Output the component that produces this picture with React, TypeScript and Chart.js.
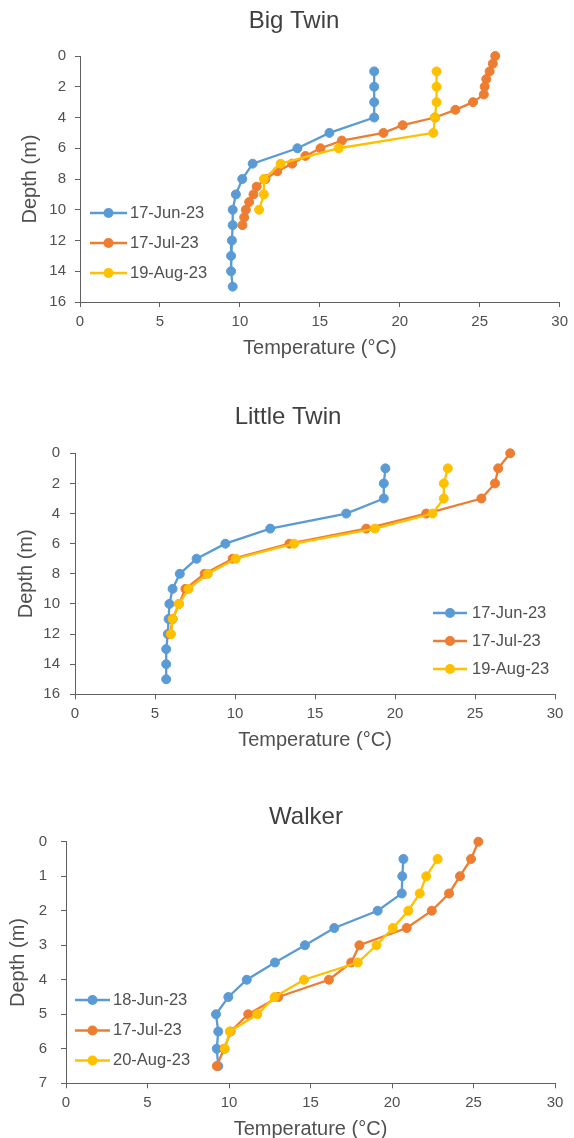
import React, { useEffect, useRef } from "react";
import { Chart, registerables } from "chart.js";

Chart.register(...registerables);

const FONT = '"Liberation Sans", Arial, sans-serif';
const TEXT = "#505050";
const AXIS = "#606060";
const BLUE = "#5B9BD5";
const ORANGE = "#ED7D31";
const YELLOW = "#FFC000";

// ---- Big Twin profiles (depth in m, temperature in °C) ----
const bigTwinJunDepth = [1, 2, 3, 4, 5, 6, 7, 8, 9, 10, 11, 12, 13, 14, 15];
const bigTwinJunTemp = [18.4, 18.4, 18.4, 18.4, 15.6, 13.6, 10.8, 10.15, 9.75, 9.55, 9.55, 9.5, 9.45, 9.45, 9.55];
const bigTwinJulDepth = [0, 0.5, 1, 1.5, 2, 2.5, 3, 3.5, 4, 4.5, 5, 5.5, 6, 6.5, 7, 7.5, 8, 8.5, 9, 9.5, 10, 10.5, 11];
const bigTwinJulTemp = [25.97, 25.82, 25.62, 25.41, 25.31, 25.26, 24.58, 23.48, 22.2, 20.18, 18.98, 16.38, 15.04, 14.1, 13.27, 12.34, 11.6, 11.05, 10.85, 10.58, 10.37, 10.27, 10.16];
const bigTwinAugDepth = [1, 2, 3, 4, 5, 6, 7, 8, 9, 10];
const bigTwinAugTemp = [22.3, 22.3, 22.3, 22.2, 22.1, 16.18, 12.55, 11.5, 11.5, 11.2];

// ---- Little Twin profiles ----
const littleTwinJunDepth = [1, 2, 3, 4, 5, 6, 7, 8, 9, 10, 11, 12, 13, 14, 15];
const littleTwinJunTemp = [19.4, 19.3, 19.3, 16.95, 12.2, 9.4, 7.6, 6.55, 6.1, 5.9, 5.85, 5.8, 5.7, 5.7, 5.7];
const littleTwinJulDepth = [0, 1, 2, 3, 4, 5, 6, 7, 8, 9, 10, 11, 12];
const littleTwinJulTemp = [27.2, 26.45, 26.25, 25.4, 21.95, 18.2, 13.4, 9.85, 8.1, 6.9, 6.5, 6.1, 5.95];
const littleTwinAugDepth = [1, 2, 3, 4, 5, 6, 7, 8, 9, 10, 11, 12];
const littleTwinAugTemp = [23.3, 23.05, 23.05, 22.35, 18.75, 13.7, 10.05, 8.3, 7.1, 6.5, 6.1, 6.0];

// ---- Walker profiles ----
const walkerJunDepth = [0.5, 1, 1.5, 2, 2.5, 3, 3.5, 4, 4.5, 5, 5.5, 6, 6.5];
const walkerJunTemp = [20.7, 20.63, 20.6, 19.12, 16.46, 14.66, 12.82, 11.09, 9.96, 9.2, 9.34, 9.25, 9.34];
const walkerJulDepth = [0, 0.5, 1, 1.5, 2, 2.5, 3, 3.5, 4, 4.5, 5, 5.5, 6, 6.5];
const walkerJulTemp = [25.3, 24.85, 24.17, 23.5, 22.44, 20.9, 18.0, 17.5, 16.13, 13.02, 11.18, 10.1, 9.7, 9.25];
const walkerAugDepth = [0.5, 1, 1.5, 2, 2.5, 3, 3.5, 4, 4.5, 5, 5.5, 6];
const walkerAugTemp = [22.8, 22.1, 21.7, 21.0, 20.05, 19.05, 17.9, 14.6, 12.8, 11.74, 10.05, 9.75];

const tempTicks = [0, 5, 10, 15, 20, 25, 30];

type Series = { label: string; color: string; depth: number[]; temp: number[] };

type PanelSpec = {
  title: string;
  top: number;
  height: number;
  titleX: number;
  titleY: number;
  area: { left: number; right: number; top: number; bottom: number };
  depthMax: number;
  depthStep: number;
  yTitleOffset: number;
  yTickPad: number;
  legend: { x1: number; x2: number; textX: number; rows: number[] };
  series: Series[];
};

const panels: PanelSpec[] = [
  {
    title: "Big Twin",
    top: 0,
    height: 380,
    titleX: 294,
    titleY: 21,
    area: { left: 80, right: 562, top: 56, bottom: 302 },
    depthMax: 16,
    depthStep: 2,
    yTitleOffset: 18,
    yTickPad: 9,
    legend: { x1: 90, x2: 127, textX: 130, rows: [213, 243, 273] },
    series: [
      { label: "17-Jun-23", color: BLUE, depth: bigTwinJunDepth, temp: bigTwinJunTemp },
      { label: "17-Jul-23", color: ORANGE, depth: bigTwinJulDepth, temp: bigTwinJulTemp },
      { label: "19-Aug-23", color: YELLOW, depth: bigTwinAugDepth, temp: bigTwinAugTemp },
    ],
  },
  {
    title: "Little Twin",
    top: 380,
    height: 400,
    titleX: 288,
    titleY: 37,
    area: { left: 75, right: 555, top: 73.3, bottom: 314.3 },
    depthMax: 16,
    depthStep: 2,
    yTitleOffset: 14,
    yTickPad: 10,
    legend: { x1: 433, x2: 467, textX: 472, rows: [233, 261, 289] },
    series: [
      { label: "17-Jun-23", color: BLUE, depth: littleTwinJunDepth, temp: littleTwinJunTemp },
      { label: "17-Jul-23", color: ORANGE, depth: littleTwinJulDepth, temp: littleTwinJulTemp },
      { label: "19-Aug-23", color: YELLOW, depth: littleTwinAugDepth, temp: littleTwinAugTemp },
    ],
  },
  {
    title: "Walker",
    top: 780,
    height: 370,
    titleX: 306,
    titleY: 37,
    area: { left: 66, right: 555, top: 61.7, bottom: 303.3 },
    depthMax: 7,
    depthStep: 1,
    yTitleOffset: 6,
    yTickPad: 14,
    legend: { x1: 75, x2: 110, textX: 113, rows: [220, 250.5, 280.5] },
    series: [
      { label: "18-Jun-23", color: BLUE, depth: walkerJunDepth, temp: walkerJunTemp },
      { label: "17-Jul-23", color: ORANGE, depth: walkerJulDepth, temp: walkerJulTemp },
      { label: "20-Aug-23", color: YELLOW, depth: walkerAugDepth, temp: walkerAugTemp },
    ],
  },
];

const X_AXIS_HEIGHT = 60;
const WIDTH = 574;

function decorations(spec: PanelSpec) {
  return {
    id: "decorations",
    afterDraw(chart: any) {
      const ctx = chart.ctx as CanvasRenderingContext2D;
      ctx.save();
      ctx.fillStyle = "#404040";
      ctx.font = `24px ${FONT}`;
      ctx.textAlign = "center";
      ctx.textBaseline = "middle";
      ctx.fillText(spec.title, spec.titleX, spec.titleY);

      const { x1, x2, textX, rows } = spec.legend;
      spec.series.forEach((s, i) => {
        const y = rows[i];
        ctx.strokeStyle = s.color;
        ctx.lineWidth = 2.3;
        ctx.beginPath();
        ctx.moveTo(x1, y);
        ctx.lineTo(x2, y);
        ctx.stroke();
        ctx.fillStyle = s.color;
        ctx.beginPath();
        ctx.arc((x1 + x2) / 2, y, 5, 0, Math.PI * 2);
        ctx.fill();
        ctx.fillStyle = TEXT;
        ctx.font = `16.5px ${FONT}`;
        ctx.textAlign = "left";
        ctx.textBaseline = "middle";
        ctx.fillText(s.label, textX, y);
      });
      ctx.restore();
    },
  };
}

function ProfilePanel({ spec }: { spec: PanelSpec }) {
  const ref = useRef<HTMLCanvasElement | null>(null);

  useEffect(() => {
    const canvas = ref.current;
    if (!canvas) return;
    const { area } = spec;
    const depthTicks: number[] = [];
    for (let d = 0; d <= spec.depthMax; d += spec.depthStep) depthTicks.push(d);

    const chart = new Chart(canvas, {
      type: "scatter",
      data: {
        datasets: spec.series.map((s, i) => ({
          label: s.label,
          data: s.depth.map((d, k) => ({ x: s.temp[k], y: d })),
          showLine: true,
          clip: false,
          borderColor: s.color,
          backgroundColor: s.color,
          borderWidth: 2.3,
          pointRadius: 4.5,
          pointBorderWidth: 1,
          pointBorderColor: s.color,
          pointBackgroundColor: s.color,
          order: spec.series.length - 1 - i,
        })),
      },
      options: {
        responsive: false,
        animation: false,
        devicePixelRatio: 1,
        layout: {
          padding: {
            top: area.top,
            left: 0,
            right: WIDTH - area.right,
            bottom: spec.height - area.bottom - X_AXIS_HEIGHT,
          },
        },
        plugins: {
          legend: { display: false },
          tooltip: { enabled: false },
          title: { display: false },
        },
        scales: {
          x: {
            type: "linear",
            position: "bottom",
            min: 0,
            max: 30,
            afterBuildTicks: (scale: any) => {
              scale.ticks = tempTicks.map((v) => ({ value: v }));
            },
            ticks: {
              color: TEXT,
              font: { family: FONT, size: 15 },
              padding: 6,
              maxRotation: 0,
            },
            grid: { drawOnChartArea: false, drawTicks: true, tickLength: 5, color: AXIS },
            border: { display: true, color: AXIS, width: 1 },
            title: {
              display: true,
              text: "Temperature (°C)",
              color: TEXT,
              font: { family: FONT, size: 20 },
              padding: { top: 0, bottom: 2 },
            },
            afterFit: (scale: any) => {
              scale.height = X_AXIS_HEIGHT;
            },
          },
          y: {
            type: "linear",
            position: "left",
            reverse: true,
            min: 0,
            max: spec.depthMax,
            afterBuildTicks: (scale: any) => {
              scale.ticks = depthTicks.map((v) => ({ value: v }));
            },
            ticks: {
              color: TEXT,
              font: { family: FONT, size: 15 },
              padding: spec.yTickPad,
            },
            grid: { drawOnChartArea: false, drawTicks: true, tickLength: 5, color: AXIS },
            border: { display: true, color: AXIS, width: 1 },
            title: {
              display: true,
              text: "Depth (m)",
              color: TEXT,
              font: { family: FONT, size: 20 },
              padding: { top: spec.yTitleOffset, bottom: 0 },
            },
            afterFit: (scale: any) => {
              scale.width = area.left;
            },
          },
        },
      },
      plugins: [decorations(spec)],
    } as any);

    return () => chart.destroy();
  }, [spec]);

  return (
    <canvas
      ref={ref}
      width={WIDTH}
      height={spec.height}
      style={{ position: "absolute", left: 0, top: spec.top, width: WIDTH, height: spec.height }}
    />
  );
}

export default function App() {
  return (
    <div
      style={{
        position: "absolute",
        left: 0,
        top: 0,
        width: WIDTH,
        height: 1138,
        overflow: "hidden",
        background: "#ffffff",
      }}
    >
      {panels.map((p) => (
        <ProfilePanel key={p.title} spec={p} />
      ))}
    </div>
  );
}
